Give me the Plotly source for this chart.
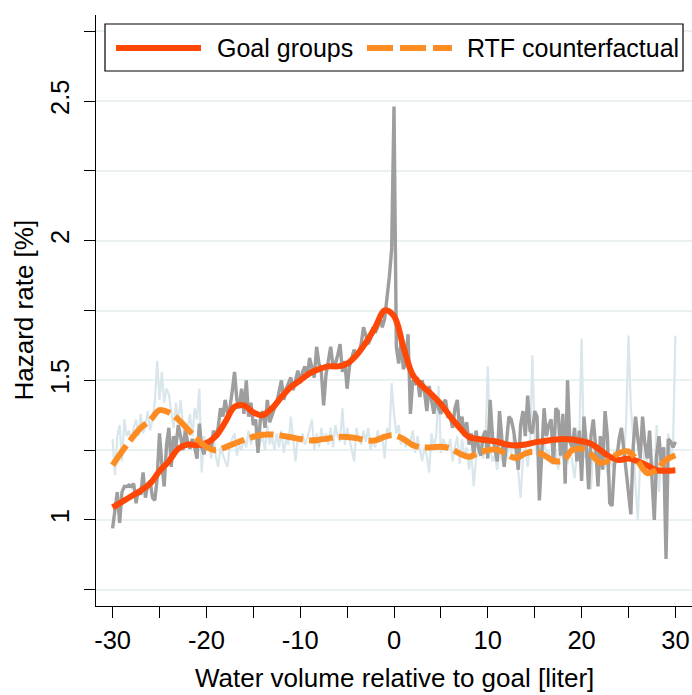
import plotly.graph_objects as go

# Water volume relative to goal (liter), 0.25 l bins for the raw hazard series
x_raw = [-30 + 0.25 * i for i in range(241)]

# Raw hazard rate for goal groups (%)
goal_raw = [
    0.97, 1.04, 1.10, 0.99, 1.10, 1.12, 1.12, 1.125, 1.12, 1.13,   # -30 .. -27.75
    1.06, 1.11, 1.09, 1.17, 1.08, 1.13, 1.14, 1.08, 1.07, 1.15,    # -27.5 .. -25.25
    1.31, 1.20, 1.12, 1.27, 1.33, 1.19, 1.30, 1.26, 1.34, 1.30,    # -25 .. -22.75
    1.25, 1.32, 1.28, 1.255, 1.29, 1.26, 1.22, 1.345, 1.26, 1.235, # -22.5 .. -20.25
    1.285, 1.27, 1.25, 1.32, 1.30, 1.33, 1.40, 1.37, 1.43, 1.38,   # -20 .. -17.75
    1.40, 1.46, 1.53, 1.43, 1.40, 1.47, 1.38, 1.50, 1.37, 1.42,    # -17.5 .. -15.25
    1.34, 1.36, 1.24, 1.36, 1.39, 1.33, 1.43, 1.35, 1.38, 1.40,    # -15 .. -12.75
    1.42, 1.46, 1.50, 1.43, 1.47, 1.49, 1.51, 1.465, 1.50, 1.535,  # -12.5 .. -10.25
    1.49, 1.53, 1.55, 1.51, 1.58, 1.54, 1.51, 1.62, 1.56, 1.53,    # -10 .. -7.75
    1.41, 1.52, 1.57, 1.62, 1.55, 1.56, 1.59, 1.63, 1.53, 1.57,    # -7.5 .. -5.25
    1.47, 1.55, 1.58, 1.61, 1.585, 1.60, 1.63, 1.69, 1.66, 1.63,   # -5 .. -2.75
    1.65, 1.69, 1.67, 1.69, 1.725, 1.69, 1.72, 1.79, 1.87, 1.97,   # -2.5 .. -0.25
    2.48, 1.62, 1.56, 1.64, 1.54, 1.56, 1.665, 1.38, 1.50, 1.49,   # 0 .. 2.25
    1.51, 1.44, 1.50, 1.46, 1.39, 1.48, 1.42, 1.38, 1.44, 1.40,    # 2.5 .. 4.75
    1.38, 1.42, 1.43, 1.37, 1.37, 1.33, 1.40, 1.43, 1.32, 1.37,    # 5 .. 7.25
    1.30, 1.35, 1.27, 1.31, 1.23, 1.32, 1.26, 1.23, 1.30, 1.32,    # 7.5 .. 9.75
    1.22, 1.43, 1.30, 1.26, 1.21, 1.39, 1.30, 1.19, 1.28, 1.37,    # 10 .. 12.25
    1.36, 1.32, 1.26, 1.18, 1.34, 1.39, 1.30, 1.445, 1.32, 1.31,   # 12.5 .. 14.75
    1.39, 1.37, 1.07, 1.22, 1.40, 1.30, 1.34, 1.36, 1.20, 1.40,    # 15 .. 17.25
    1.39, 1.23, 1.38, 1.13, 1.50, 1.28, 1.26, 1.33, 1.21, 1.32,    # 17.5 .. 19.75
    1.14, 1.37, 1.27, 1.11, 1.30, 1.36, 1.26, 1.12, 1.30, 1.18,    # 20 .. 22.25
    1.39, 1.30, 1.06, 1.05, 1.20, 1.22, 1.29, 1.33, 1.25, 1.18,    # 22.5 .. 24.75
    1.10, 1.02, 1.26, 1.37, 1.29, 1.22, 1.37, 1.27, 1.22, 1.32,    # 25 .. 27.25
    1.15, 1.00, 1.23, 1.30, 1.20, 1.26, 0.86, 1.29, 1.28, 1.26,    # 27.5 .. 29.75
    1.28,                                                          # 30
]

# Raw hazard rate implied by the RTF counterfactual (%)
rtf_raw = [
    1.29, 1.16, 1.30, 1.34, 1.21, 1.36, 1.30, 1.32, 1.28, 1.33,    # -30 .. -27.75
    1.36, 1.30, 1.38, 1.31, 1.34, 1.39, 1.32, 1.36, 1.42, 1.57,    # -27.5 .. -25.25
    1.43, 1.53, 1.42, 1.47, 1.45, 1.38, 1.33, 1.42, 1.35, 1.43,    # -25 .. -22.75
    1.34, 1.28, 1.33, 1.38, 1.30, 1.40, 1.36, 1.47, 1.17, 1.30,    # -22.5 .. -20.25
    1.25, 1.28, 1.22, 1.30, 1.23, 1.19, 1.26, 1.23, 1.21, 1.19,    # -20 .. -17.75
    1.27, 1.29, 1.31, 1.23, 1.27, 1.25, 1.29, 1.26, 1.32, 1.27,    # -17.5 .. -15.25
    1.31, 1.29, 1.24, 1.28, 1.30, 1.25, 1.34, 1.27, 1.30, 1.25,    # -15 .. -12.75
    1.31, 1.26, 1.32, 1.24, 1.29, 1.27, 1.37, 1.29, 1.21, 1.30,    # -12.5 .. -10.25
    1.28, 1.31, 1.27, 1.29, 1.33, 1.36, 1.25, 1.31, 1.26, 1.33,    # -10 .. -7.75
    1.28, 1.31, 1.27, 1.33, 1.26, 1.34, 1.30, 1.28, 1.40, 1.27,    # -7.5 .. -5.25
    1.33, 1.29, 1.26, 1.21, 1.33, 1.29, 1.27, 1.32, 1.28, 1.33,    # -5 .. -2.75
    1.25, 1.29, 1.26, 1.32, 1.28, 1.30, 1.22, 1.33, 1.30, 1.49,    # -2.5 .. -0.25
    1.38, 1.31, 1.34, 1.27, 1.30, 1.26, 1.29, 1.28, 1.32, 1.24,    # 0 .. 2.25
    1.30, 1.26, 1.21, 1.26, 1.23, 1.17, 1.31, 1.26, 1.30, 1.48,    # 2.5 .. 4.75
    1.24, 1.29, 1.27, 1.25, 1.29, 1.21, 1.26, 1.30, 1.20, 1.29,    # 5 .. 7.25
    1.23, 1.26, 1.18, 1.24, 1.12, 1.22, 1.26, 1.29, 1.22, 1.27,    # 7.5 .. 9.75
    1.55, 1.26, 1.21, 1.23, 1.18, 1.25, 1.21, 1.26, 1.22, 1.28,    # 10 .. 12.25
    1.24, 1.30, 1.22, 1.17, 1.08, 1.22, 1.26, 1.19, 1.27, 1.59,    # 12.5 .. 14.75
    1.30, 1.23, 1.26, 1.22, 1.28, 1.24, 1.25, 1.20, 1.27, 1.25,    # 15 .. 17.25
    1.18, 1.25, 1.22, 1.26, 1.20, 1.25, 1.21, 1.15, 1.24, 1.28,    # 17.5 .. 19.75
    1.65, 1.23, 1.22, 1.18, 1.11, 1.26, 1.21, 1.24, 1.20, 1.26,    # 20 .. 22.25
    1.23, 1.16, 1.22, 1.19, 1.25, 1.21, 1.27, 1.32, 1.22, 1.35,    # 22.5 .. 24.75
    1.66, 1.40, 1.30, 1.12, 1.00, 1.22, 1.18, 1.26, 1.20, 1.16,    # 25 .. 27.25
    1.23, 1.15, 1.34, 1.10, 1.25, 1.19, 1.24, 1.31, 1.22, 1.27,    # 27.5 .. 29.75
    1.66,                                                          # 30
]

# Smoothed series on a 1-liter grid
x_smooth = list(range(-30, 31))

goal_smooth = [
    1.045, 1.065, 1.085, 1.105, 1.13, 1.175, 1.21, 1.255, 1.27, 1.268,  # -30 .. -21
    1.275, 1.30, 1.35, 1.405, 1.41, 1.385, 1.375, 1.40, 1.44, 1.476,    # -20 .. -11
    1.50, 1.525, 1.54, 1.55, 1.55, 1.56, 1.59, 1.635, 1.69, 1.75,       # -10 .. -1
    1.73,                                                               # 0
    1.62, 1.52, 1.48, 1.45, 1.415, 1.37, 1.33, 1.297, 1.29, 1.285,      # 1 .. 10
    1.28, 1.27, 1.267, 1.27, 1.278, 1.282, 1.287, 1.29, 1.288, 1.282,   # 11 .. 20
    1.273, 1.25, 1.226, 1.215, 1.22, 1.21, 1.195, 1.178, 1.176, 1.178,  # 21 .. 30
]

rtf_smooth = [
    1.196, 1.245, 1.29, 1.33, 1.357, 1.393, 1.385, 1.36, 1.325, 1.29,   # -30 .. -21
    1.262, 1.25, 1.26, 1.274, 1.287, 1.298, 1.305, 1.306, 1.302, 1.296, # -20 .. -11
    1.29, 1.285, 1.287, 1.292, 1.297, 1.297, 1.293, 1.285, 1.285, 1.298,# -10 .. -1
    1.303,                                                              # 0
    1.29, 1.268, 1.26, 1.26, 1.262, 1.256, 1.238, 1.226, 1.24, 1.25,    # 1 .. 10
    1.252, 1.235, 1.222, 1.238, 1.244, 1.232, 1.212, 1.212, 1.25, 1.255,# 11 .. 20
    1.235, 1.205, 1.215, 1.24, 1.245, 1.21, 1.168, 1.18, 1.215, 1.232,  # 21 .. 30
]

series_names = ["Goal groups", "RTF counterfactual"]
c_goal = "#ff4706"
c_rtf = "#fd8c22"
c_goal_raw = "#9e9e9e"
c_rtf_raw = "#d9e6eb"

x_ticks = list(range(-30, 31, 5))
x_ticktext = [str(v) if v % 10 == 0 else "" for v in x_ticks]
y_ticks = [0.75, 1.0, 1.25, 1.5, 1.75, 2.0, 2.25, 2.5, 2.75]
y_ticktext = ["", "1", "", "1.5", "", "2", "", "2.5", ""]

FONT = "Liberation Sans, Arial, sans-serif"
FS_TICK = 25.5
FS_TITLE = 26
FS_LEG = 25

fig = go.Figure()
fig.add_trace(go.Scatter(x=x_raw, y=rtf_raw, mode="lines",
                         line=dict(color=c_rtf_raw, width=2.2), showlegend=False,
                         hoverinfo="skip"))
fig.add_trace(go.Scatter(x=x_raw, y=goal_raw, mode="lines",
                         line=dict(color=c_goal_raw, width=3.4), showlegend=False,
                         hoverinfo="skip"))
fig.add_trace(go.Scatter(x=x_smooth, y=goal_smooth, mode="lines", name=series_names[0],
                         line=dict(color=c_goal, width=6, shape="spline", smoothing=1.0),
                         showlegend=False))
fig.add_trace(go.Scatter(x=x_smooth, y=rtf_smooth, mode="lines", name=series_names[1],
                         line=dict(color=c_rtf, width=6, dash="24px,6px",
                                   shape="spline", smoothing=1.0),
                         showlegend=False))

# Plot area in pixels: left 96, right 692, top 15, bottom 606
W, H = 692, 695
L, R, T, B = 96, 0, 15, 89
pw, ph = W - L - R, H - T - B


def px(xp):
    return (xp - L) / pw


def py(yp):
    return (H - B - yp) / ph


shapes = [
    # legend frame
    dict(type="rect", xref="paper", yref="paper",
         x0=px(105), x1=px(683), y0=py(71), y1=py(24),
         line=dict(color="black", width=1.2), fillcolor="white", layer="above"),
    dict(type="line", xref="paper", yref="paper",
         x0=px(116), x1=px(201), y0=py(48), y1=py(48),
         line=dict(color=c_goal, width=6), layer="above"),
    dict(type="line", xref="paper", yref="paper",
         x0=px(367), x1=px(452), y0=py(48), y1=py(48),
         line=dict(color=c_rtf, width=6, dash="26px,7px"), layer="above"),
]

annotations = [
    dict(text=series_names[0], xref="paper", yref="paper", x=px(215), y=py(48),
         xanchor="left", yanchor="middle", showarrow=False,
         font=dict(family=FONT, size=FS_LEG, color="black")),
    dict(text=series_names[1], xref="paper", yref="paper", x=px(465), y=py(48),
         xanchor="left", yanchor="middle", showarrow=False,
         font=dict(family=FONT, size=FS_LEG, color="black")),
    dict(text="Water volume relative to goal [liter]", xref="paper", yref="paper",
         x=0.5, y=py(678), xanchor="center", yanchor="middle", showarrow=False,
         font=dict(family=FONT, size=FS_TITLE, color="black")),
    dict(text="Hazard rate [%]", xref="paper", yref="paper",
         x=px(23), y=0.5, xanchor="center", yanchor="middle", showarrow=False,
         textangle=-90, font=dict(family=FONT, size=FS_TITLE, color="black")),
]

fig.update_layout(
    width=W, height=H,
    margin=dict(l=L, r=R, t=T, b=B),
    paper_bgcolor="white", plot_bgcolor="white",
    showlegend=False,
    shapes=shapes,
    annotations=annotations,
    font=dict(family=FONT, size=FS_TICK, color="black"),
)
fig.update_xaxes(
    range=[-31.77, 31.77], tickvals=x_ticks, ticktext=x_ticktext,
    ticks="outside", ticklen=11, tickwidth=1.3, tickcolor="black",
    showline=True, linecolor="black", linewidth=1.3,
    showgrid=False, zeroline=False,
    tickfont=dict(family=FONT, size=FS_TICK, color="black"),
)
fig.update_yaxes(
    range=[0.692, 2.808], tickvals=y_ticks, ticktext=y_ticktext,
    tickangle=-90, ticklabelstandoff=5,
    ticks="outside", ticklen=11, tickwidth=1.3, tickcolor="black",
    showline=True, linecolor="black", linewidth=1.3,
    showgrid=True, gridcolor="#e9f1f3", gridwidth=1.5, zeroline=False,
    tickfont=dict(family=FONT, size=FS_TICK, color="black"),
)

fig.write_html("out.html")
